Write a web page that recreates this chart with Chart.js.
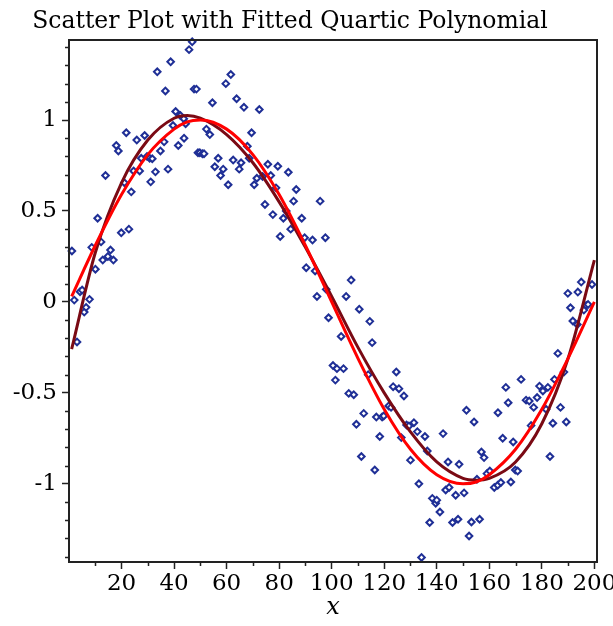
<!DOCTYPE html>
<html>
<head>
<meta charset="utf-8">
<script src="https://cdn.jsdelivr.net/npm/chart.js@4.4.0/dist/chart.umd.min.js"></script>
<style>
  html, body { margin: 0; padding: 0; background: #fff; }
</style>
</head>
<body>
<canvas id="chart" width="613" height="626"></canvas>
<script>
const chartTitle = 'Scatter Plot with Fitted Quartic Polynomial';
const xTitle = 'x';

// tick values
const xMajorTicks = [20, 40, 60, 80, 100, 120, 140, 160, 180, 200];
const xMinorTicks = [10, 30, 50, 70, 90, 110, 130, 150, 170, 190];
const yMajorTicks = [-1, -0.5, 0, 0.5, 1];
const yMinorTicks = [-1.4, -1.3, -1.2, -1.1, -0.9, -0.8, -0.7, -0.6, -0.4, -0.3, -0.2, -0.1,
                     0.1, 0.2, 0.3, 0.4, 0.6, 0.7, 0.8, 0.9, 1.1, 1.2, 1.3, 1.4];

// scatter points
const pointX = [
  1.1, 2.0, 3.05, 4.2, 5.0, 5.8, 6.5, 7.8, 8.65, 10.05,
  10.9, 12.2, 12.85, 13.9, 14.8, 15.8, 16.9, 18.0, 18.8, 19.9,
  21.1, 21.8, 22.8, 23.7, 24.6, 25.8, 26.9, 27.5, 28.8, 29.7,
  30.7, 31.1, 31.7, 32.9, 33.6, 34.8, 36.2, 36.7, 37.7, 38.7,
  39.6, 40.6, 41.6, 42.4, 43.7, 43.8, 44.4, 45.7, 46.9, 47.6,
  48.5, 49.1, 49.8, 50.8, 51.4, 52.3, 53.6, 54.6, 55.5, 56.8,
  57.7, 58.7, 59.7, 60.6, 61.6, 62.5, 63.8, 64.8, 65.5, 66.6,
  67.9, 68.6, 69.5, 70.5, 71.5, 72.45, 73.7, 74.6, 75.7, 76.8,
  77.6, 78.8, 79.5, 80.4, 81.6, 82.7, 83.5, 84.4, 85.5, 86.5,
  88.6, 89.7, 90.3, 92.7, 93.7, 94.4, 95.6, 97.6, 97.9, 98.8,
  100.5, 101.4, 102.0, 103.6, 104.5, 105.5, 106.5, 107.4, 108.4, 109.4,
  110.5, 111.3, 112.2, 113.9, 114.5, 115.4, 116.4, 117.0, 118.3, 119.2,
  119.8, 121.7, 122.6, 123.4, 124.6, 125.6, 126.5, 127.5, 128.5, 129.4,
  130.0, 131.3, 132.6, 133.2, 134.2, 135.5, 136.4, 137.3, 138.3, 139.6,
  140.0, 141.2, 142.4, 143.4, 144.3, 144.7, 146.0, 147.2, 148.1, 148.5,
  150.4, 151.3, 152.3, 153.2, 154.2, 155.3, 156.3, 157.0, 158.0, 159.1,
  160.2, 161.9, 163.2, 163.3, 164.4, 165.1, 166.3, 167.2, 168.2, 169.1,
  169.9, 170.8, 172.1, 174.0, 175.2, 175.9, 176.9, 178.2, 179.1, 180.4,
  181.6, 182.3, 183.1, 184.2, 184.8, 186.1, 187.1, 188.4, 189.3, 189.9,
  190.9, 191.8, 193.5, 193.7, 195.0, 196.0, 196.9, 197.6, 199.1
];
const pointY = [
  0.28, 0.01, -0.22, 0.056, 0.065, -0.056, -0.03, 0.014, 0.30, 0.18,
  0.46, 0.33, 0.23, 0.695, 0.25, 0.285, 0.23, 0.86, 0.83, 0.38,
  0.655, 0.93, 0.40, 0.605, 0.72, 0.89, 0.72, 0.79, 0.915, 0.80,
  0.79, 0.66, 0.787, 0.715, 1.265, 0.83, 0.88, 1.16, 0.73, 1.32,
  0.97, 1.047, 0.86, 1.025, 1.007, 0.90, 0.98, 1.387, 1.43, 1.17,
  1.17, 0.82, 0.82, 0.815, 0.815, 0.95, 0.92, 1.095, 0.743, 0.79,
  0.695, 0.73, 1.20, 0.644, 1.25, 0.78, 1.117, 0.73, 0.765, 1.07,
  0.856, 0.79, 0.93, 0.644, 0.68, 1.058, 0.69, 0.536, 0.757, 0.695,
  0.48, 0.627, 0.746, 0.36, 0.46, 0.50, 0.713, 0.40, 0.554, 0.618,
  0.46, 0.353, 0.188, 0.34, 0.17, 0.03, 0.554, 0.353, 0.069, -0.087,
  -0.35, -0.43, -0.367, -0.19, -0.367, 0.03, -0.503, 0.12, -0.51, -0.673,
  -0.04, -0.85, -0.613, -0.40, -0.107, -0.224, -0.924, -0.633, -0.74, -0.633,
  -0.627, -0.572, -0.58, -0.466, -0.385, -0.477, -0.746, -0.517, -0.677, -0.682,
  -0.87, -0.664, -0.713, -1.0, -1.405, -0.74, -0.82, -1.213, -1.08, -1.107,
  -1.09, -1.155, -0.724, -1.034, -0.88, -1.02, -1.213, -1.063, -1.195, -0.893,
  -1.05, -0.596, -1.287, -1.21, -0.66, -0.975, -1.195, -0.825, -0.856, -0.944,
  -0.93, -1.02, -1.008, -0.609, -0.993, -0.75, -0.47, -0.554, -0.99, -0.77,
  -0.924, -0.93, -0.426, -0.54, -0.545, -0.68, -0.58, -0.526, -0.463, -0.49,
  -0.59, -0.47, -0.85, -0.667, -0.426, -0.283, -0.58, -0.386, -0.66, 0.047,
  -0.032, -0.105, -0.124, 0.054, 0.109, -0.045, -0.019, -0.014, 0.096
];

// the two curves
const curveX  = [1, 10, 20, 30, 40, 45, 50, 60, 70, 80, 90, 100, 110, 120, 130, 140, 150, 155, 160, 170, 180, 190, 200];
const quartic = [-0.26, 0.27, 0.655, 0.89, 1.01, 1.025, 1.01, 0.92, 0.765, 0.55, 0.30, 0.03,
                 -0.25, -0.5, -0.715, -0.88, -0.97, -0.98, -0.97, -0.88, -0.67, -0.31, 0.23];
const sineY   = [0.03, 0.31, 0.59, 0.81, 0.95, 0.99, 1.0, 0.95, 0.81, 0.59, 0.31, 0.0,
                 -0.31, -0.59, -0.81, -0.95, -1.0, -0.99, -0.95, -0.81, -0.59, -0.31, 0.0];

const serif = '"DejaVu Serif", serif';
Chart.defaults.font.family = serif;
Chart.defaults.color = '#000';

const frameAndTicks = {
    id: 'frameAndTicks',
    afterDraw(chart) {
        const { ctx, chartArea: a, scales: { x, y } } = chart;
        ctx.save();
        ctx.strokeStyle = '#222';
        ctx.lineWidth = 1.5;
        ctx.beginPath();
        xMinorTicks.forEach((v) => {
            const px = Math.round(x.getPixelForValue(v)) + 0.5;
            ctx.moveTo(px, a.bottom);
            ctx.lineTo(px, a.bottom + 4);
        });
        yMinorTicks.forEach((v) => {
            const py = Math.round(y.getPixelForValue(v)) + 0.5;
            ctx.moveTo(a.left, py);
            ctx.lineTo(a.left - 4, py);
        });
        ctx.stroke();

        ctx.lineWidth = 2;
        ctx.strokeRect(a.left, a.top, a.right - a.left, a.bottom - a.top);

        ctx.fillStyle = '#000';
        ctx.textAlign = 'center';
        ctx.textBaseline = 'alphabetic';
        ctx.font = '23.5px ' + serif;
        ctx.fillText(chartTitle, 290, 28);

        ctx.font = 'italic 24px ' + serif;
        ctx.fillText(xTitle, (a.left + a.right) / 2, 614);
        ctx.restore();
    }
};

const scatterPoints = pointX.map((x, i) => ({ x, y: pointY[i] }));

new Chart(document.getElementById('chart'), {
    type: 'scatter',
    data: {
        datasets: [
            {
                label: 'sin',
                data: curveX.map((x, i) => ({ x, y: sineY[i] })),
                showLine: true,
                borderColor: '#ff0000',
                borderWidth: 3,
                pointRadius: 0,
                cubicInterpolationMode: 'monotone',
                order: 0
            },
            {
                label: 'quartic',
                data: curveX.map((x, i) => ({ x, y: quartic[i] })),
                showLine: true,
                borderColor: '#7a0a14',
                borderWidth: 3,
                pointRadius: 0,
                cubicInterpolationMode: 'monotone',
                order: 1
            },
            {
                label: 'data',
                data: scatterPoints,
                pointStyle: 'rectRot',
                pointRadius: 3.3,
                borderWidth: 2,
                borderColor: '#1f2f96',
                backgroundColor: '#ffffff',
                clip: false,
                order: 2
            }
        ]
    },
    options: {
        responsive: false,
        animation: false,
        layout: { padding: { top: 40, right: 16, left: 0, bottom: 0 } },
        plugins: {
            legend: { display: false },
            tooltip: { enabled: false }
        },
        scales: {
            x: {
                type: 'linear',
                min: 0,
                max: 201,
                afterBuildTicks: (s) => { s.ticks = xMajorTicks.map((v) => ({ value: v })); },
                afterFit: (s) => { s.height = 64; s.paddingLeft = 0; s.paddingRight = 0; },
                grid: { drawOnChartArea: false, drawTicks: true, tickLength: 7, tickColor: '#222', tickWidth: 1.5 },
                border: { display: false },
                ticks: { font: { size: 23 }, padding: 1, maxRotation: 0, autoSkip: false }
            },
            y: {
                type: 'linear',
                min: -1.43,
                max: 1.44,
                afterBuildTicks: (s) => { s.ticks = yMajorTicks.map((v) => ({ value: v })); },
                afterFit: (s) => { s.width = 69; },
                grid: { drawOnChartArea: false, drawTicks: true, tickLength: 7, tickColor: '#222', tickWidth: 1.5 },
                border: { display: false },
                ticks: { font: { size: 23 }, padding: 5, callback: (v) => String(v) }
            }
        }
    },
    plugins: [frameAndTicks]
});
</script>
</body>
</html>
